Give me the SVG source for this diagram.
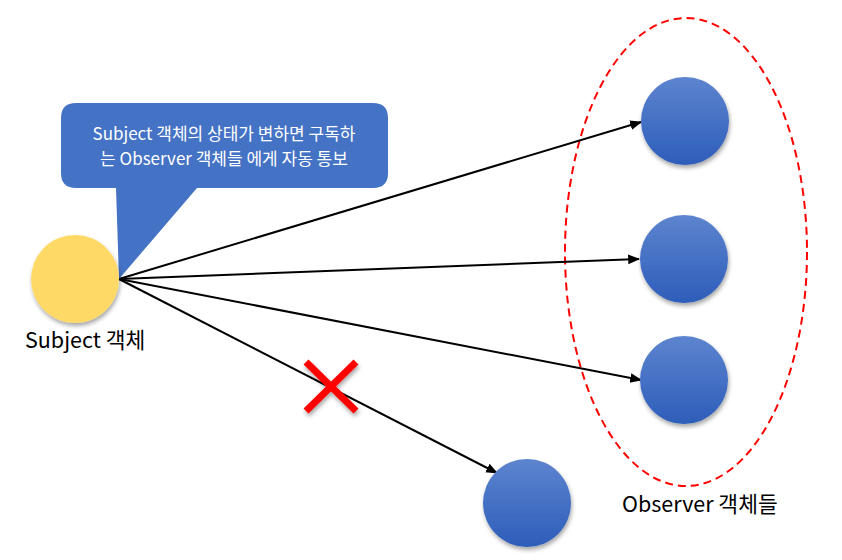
<svg xmlns="http://www.w3.org/2000/svg" width="842" height="560" viewBox="0 0 842 560">
<style>
.lbl{font-family:"Noto Sans CJK KR","Noto Sans",sans-serif;font-size:21.5px;fill:#000}
.ct{font-family:"Noto Sans CJK KR","Noto Sans",sans-serif;font-size:17px;fill:#fff;text-anchor:middle}
.conn{stroke:#000;stroke-width:2;fill:none;marker-end:url(#arr)}
.obs{fill:url(#bg);filter:url(#sh)}
</style>
<defs>
<linearGradient id="bg" x1="0" y1="0" x2="0" y2="1">
<stop offset="0" stop-color="#5D84CF"/>
<stop offset="1" stop-color="#2D5DB9"/>
</linearGradient>
<filter id="sh" x="-30%" y="-30%" width="160%" height="170%">
<feDropShadow dx="1" dy="3" stdDeviation="2" flood-color="#000" flood-opacity="0.35"/>
</filter>
<marker id="arr" viewBox="0 0 10 10" refX="9" refY="5" markerWidth="6" markerHeight="6" orient="auto" markerUnits="strokeWidth">
<path d="M0,1 L10,5 L0,9 z" fill="#000"/>
</marker>
</defs>
<g id="group-observers">
<ellipse cx="686" cy="252" rx="121" ry="234" fill="none" stroke="#FF0000" stroke-width="2" stroke-dasharray="8,5"/>
</g>
<g id="connectors">
<line class="conn" x1="119" y1="279" x2="641" y2="122"/>
<line class="conn" x1="119" y1="279" x2="639" y2="259"/>
<line class="conn" x1="119" y1="279" x2="641" y2="380"/>
<line class="conn" x1="119" y1="279" x2="497" y2="473"/>
</g>
<g id="callout">
<path d="M76,103 H373 Q388,103 388,118 V173 Q388,188 373,188 H197 L119,279 L116,188 H76 Q61,188 61,173 V118 Q61,103 76,103 Z" fill="#4472C4"/>
<text class="ct"><tspan x="224" y="140">Subject 객체의 상태가 변하면 구독하</tspan><tspan x="224" y="165">는 Observer 객체들 에게 자동 통보</tspan></text>
</g>
<g id="subject">
<circle cx="75" cy="279" r="44" fill="#FFD966" filter="url(#sh)"/>
<text class="lbl" x="25" y="348">Subject 객체</text>
</g>
<g id="observer1"><circle class="obs" cx="685" cy="121" r="44"/></g>
<g id="observer2"><circle class="obs" cx="684" cy="259" r="44"/></g>
<g id="observer3"><circle class="obs" cx="684" cy="380" r="44"/></g>
<g id="observer4"><circle class="obs" cx="527" cy="503" r="44"/></g>
<g id="cross" filter="url(#sh)">
<line x1="306" y1="362" x2="356" y2="411" stroke="#FF0000" stroke-width="7"/>
<line x1="356" y1="362" x2="306" y2="411" stroke="#FF0000" stroke-width="7"/>
</g>
<g id="observers-label">
<text class="lbl" x="622" y="512">Observer 객체들</text>
</g>
</svg>
